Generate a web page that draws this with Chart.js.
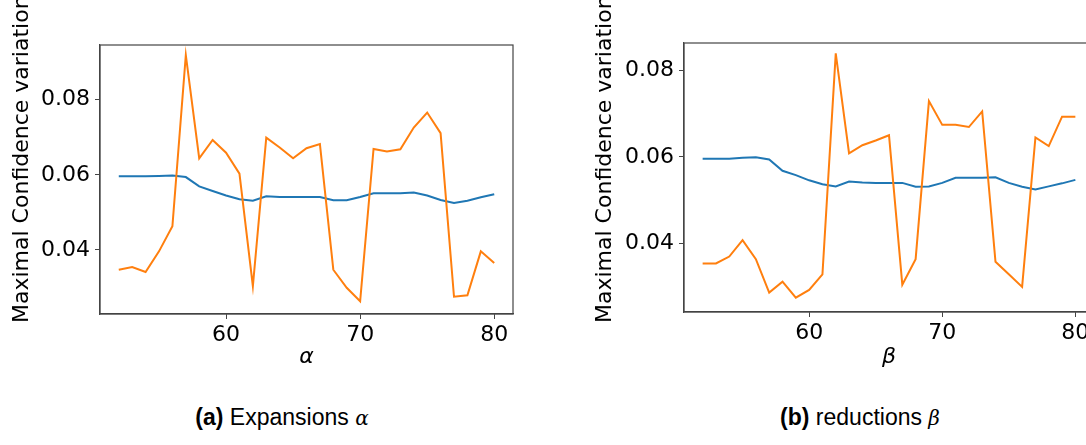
<!DOCTYPE html>
<html>
<head>
<meta charset="utf-8">
<script src="https://cdn.jsdelivr.net/npm/chart.js@4"></script>
<style>
  html, body { margin: 0; padding: 0; background: #fff; overflow: hidden; }
  body { width: 1086px; height: 445px; position: relative; }
  .box { position: absolute; top: 0; }
  .ytitle {
    position: absolute; font-family: "DejaVu Sans"; font-size: 22px; color: #000;
    white-space: nowrap; transform-origin: 0 0; transform: rotate(-90deg);
  }
  .caption {
    position: absolute; top: 404px; font-family: "Liberation Sans Narrow", "Liberation Sans"; font-size: 23px;
    color: #000; white-space: nowrap; transform: translateX(-50%);
  }
  .caption i { font-family: "DejaVu Serif"; font-size: 20px; }
</style>
</head>
<body>
<div class="box" style="left:0px"><canvas id="chartA" width="560" height="400"></canvas></div>
<div class="box" style="left:560px"><canvas id="chartB" width="560" height="400"></canvas></div>
<div class="ytitle" style="left:8px; top:323px">Maximal Confidence variation</div>
<div class="ytitle" style="left:591px; top:323px">Maximal Confidence variation</div>
<div class="caption" style="left:282px"><b>(a)</b> Expansions <i>α</i></div>
<div class="caption" style="left:860px"><b>(b)</b> reductions <i>β</i></div>
<script>
// x values (alpha / beta)
const steps = [52, 53, 54, 55, 56, 57, 58, 59, 60, 61, 62, 63, 64, 65, 66, 67, 68, 69, 70, 71, 72, 73, 74, 75, 76, 77, 78, 79, 80];

// (a) expansions
const expBlue = [0.0596, 0.0596, 0.0596, 0.0597, 0.0598, 0.0594, 0.0569, 0.0557, 0.0545, 0.0535, 0.0531, 0.0543, 0.0541, 0.0541, 0.0541,
                 0.0541, 0.0532, 0.0532, 0.0541, 0.0551, 0.0551, 0.0551, 0.0553, 0.0545, 0.0533, 0.0525, 0.0531, 0.0540, 0.0548];
const expOrange = [0.0347, 0.0354, 0.0341, 0.0396, 0.0463, 0.0919, 0.0644, 0.0693, 0.0659, 0.0603, 0.0303, 0.0699, 0.0673, 0.0644, 0.0671,
                   0.0682, 0.0347, 0.0299, 0.0263, 0.0669, 0.0662, 0.0668, 0.0726, 0.0766, 0.0711, 0.0275, 0.0279, 0.0396, 0.0365];

// (b) reductions
const redBlue = [0.0596, 0.0596, 0.0596, 0.0598, 0.0599, 0.0594, 0.0568, 0.0558, 0.0546, 0.0537, 0.0532, 0.0543, 0.0541, 0.0540, 0.0540,
                 0.0540, 0.0531, 0.0532, 0.0540, 0.0552, 0.0552, 0.0552, 0.0553, 0.0540, 0.0531, 0.0525, 0.0532, 0.0539, 0.0547];
const redOrange = [0.0354, 0.0354, 0.0370, 0.0408, 0.0364, 0.0287, 0.0312, 0.0275, 0.0293, 0.0329, 0.0839, 0.0608, 0.0627, 0.0638, 0.0650,
                   0.0305, 0.0364, 0.0729, 0.0674, 0.0674, 0.0669, 0.0705, 0.0358, 0.0329, 0.0300, 0.0645, 0.0625, 0.0693, 0.0693];

const xTicks = [60, 70, 80];
const yTicks = [0.04, 0.06, 0.08];

const axisColor = '#444';

// draws the box round the plot area, like matplotlib spines
const framePlugin = {
    id: 'frame',
    afterDraw(chart) {
        const a = chart.chartArea;
        const ctx = chart.ctx;
        ctx.save();
        ctx.strokeStyle = axisColor;
        ctx.lineWidth = 1.2;
        ctx.strokeRect(a.left, a.top, a.right - a.left, a.bottom - a.top);
        ctx.restore();
    }
};

function toPoints(ys) {
    return steps.map((x, i) => ({ x: x, y: ys[i] }));
}

function makeChart(id, blue, orange, xLabel, yMin, yMax, yWidth, xHeight, pad) {
    const ctx = document.getElementById(id).getContext('2d');
    return new Chart(ctx, {
        type: 'line',
        data: {
            datasets: [
                { data: toPoints(blue), borderColor: '#1f77b4', borderWidth: 2, pointRadius: 0, fill: false, order: 1 },
                { data: toPoints(orange), borderColor: '#ff7f0e', borderWidth: 2, pointRadius: 0, fill: false, order: 0 }
            ]
        },
        options: {
            responsive: false,
            animation: false,
            layout: { padding: pad },
            plugins: { legend: { display: false }, tooltip: { enabled: false } },
            elements: { line: { tension: 0 } },
            scales: {
                x: {
                    type: 'linear',
                    min: 50.6,
                    max: 81.4,
                    afterBuildTicks: s => { s.ticks = xTicks.map(v => ({ value: v })); },
                    afterFit: s => { s.height = xHeight; },
                    grid: { drawOnChartArea: false, drawTicks: true, tickLength: 5, color: axisColor },
                    border: { display: true, color: axisColor, width: 1.2 },
                    ticks: { color: '#000', font: { family: 'DejaVu Sans', size: 22 }, padding: 3, maxRotation: 0 },
                    title: { display: true, text: xLabel, color: '#000', padding: { top: 4, bottom: 30 },
                             font: { family: 'DejaVu Sans', size: 22, style: 'italic' } }
                },
                y: {
                    min: yMin,
                    max: yMax,
                    afterBuildTicks: s => { s.ticks = yTicks.map(v => ({ value: v })); },
                    afterFit: s => { s.width = yWidth; },
                    grid: { drawOnChartArea: false, drawTicks: true, tickLength: 5, color: axisColor },
                    border: { display: true, color: axisColor, width: 1.2 },
                    ticks: { color: '#000', font: { family: 'DejaVu Sans', size: 22 }, padding: 5,
                             callback: v => v.toFixed(2) }
                }
            }
        },
        plugins: [framePlugin]
    });
}

makeChart('chartA', expBlue, expOrange, 'α', 0.0229, 0.0946, 100, 86, { top: 45, right: 47, left: 0, bottom: 0 });
makeChart('chartB', redBlue, redOrange, 'β', 0.0242, 0.0863, 124, 88, { top: 43, right: 26, left: 0, bottom: 0 });
</script>
</body>
</html>
